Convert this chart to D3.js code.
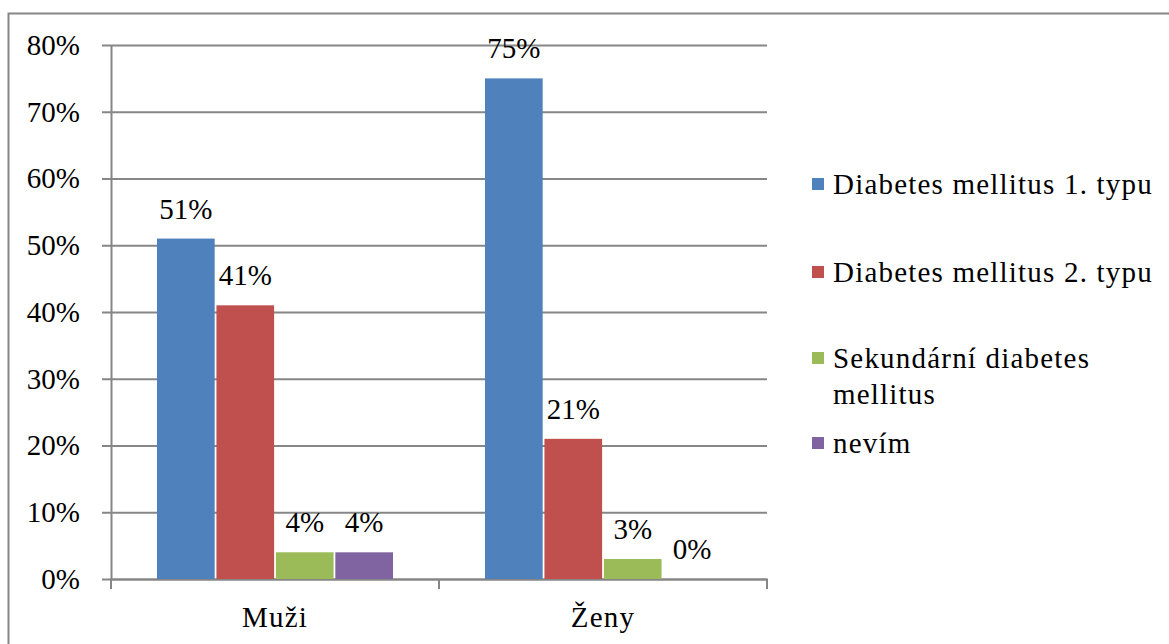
<!DOCTYPE html>
<html>
<head>
<meta charset="utf-8">
<script src="https://cdn.jsdelivr.net/npm/d3@7"></script>
<style>
  body { margin: 0; background: #fff; }
</style>
</head>
<body>
<script>
// data
var categories = ["Muži", "Ženy"];
var seriesNames = ["Diabetes mellitus 1. typu", "Diabetes mellitus 2. typu", "Sekundární diabetes mellitus", "nevím"];
var seriesColors = ["#4F81BD", "#C0504D", "#9BBB59", "#8064A2"];
var valuesMuzi = [51, 41, 4, 4];
var valuesZeny = [75, 21, 3, 0];
var yTicks = [0, 10, 20, 30, 40, 50, 60, 70, 80];

var FONT = "'Liberation Serif', 'Times New Roman', serif";
var W = 1169, H = 644;
var svg = d3.select("body").append("svg").attr("width", W).attr("height", H)
  .style("font-family", FONT);

// outer border (runs off right / bottom edge)
svg.append("rect")
  .attr("x", 8.5).attr("y", 13.5)
  .attr("width", W + 20).attr("height", H + 20)
  .attr("fill", "none").attr("stroke", "#868686").attr("stroke-width", 2);

var plotL = 111, plotR = 767, plotT = 45, plotB = 579;

var x0 = d3.scaleBand().domain(categories).range([plotL, plotR]);
var x1 = d3.scaleBand().domain(seriesNames).range([46, x0.bandwidth() - 46]).paddingInner(0.03);
var y = d3.scaleLinear().domain([0, 80]).range([plotB, plotT]);

// gridlines
svg.append("g").selectAll("line").data(yTicks).enter().append("line")
  .attr("x1", plotL - 9).attr("x2", plotR)
  .attr("y1", function(d){ return y(d) + 0.5; })
  .attr("y2", function(d){ return y(d) + 0.5; })
  .attr("stroke", "#868686").attr("stroke-width", 2);

// y axis
var yAxis = svg.append("g")
  .attr("transform", "translate(" + plotL + ",0)")
  .call(d3.axisLeft(y).tickValues(yTicks).tickSize(0).tickPadding(31)
    .tickFormat(function(d){ return d + "%"; }));
yAxis.attr("font-family", null).attr("font-size", null);
yAxis.select(".domain").attr("stroke", "#868686").attr("stroke-width", 2);
yAxis.selectAll("text").attr("font-size", 29).style("font-family", FONT).attr("fill", "#000").attr("dy", "0.32em");

// x axis
var xAxis = svg.append("g")
  .attr("transform", "translate(0," + plotB + ")")
  .call(d3.axisBottom(x0).tickSize(0).tickPadding(27));
xAxis.attr("font-family", null).attr("font-size", null);
xAxis.select(".domain").remove();
xAxis.selectAll("text").attr("font-size", 29).style("font-family", FONT)
  .style("letter-spacing", "1.2px").attr("fill", "#000");
var bounds = [plotL, plotL + x0.bandwidth(), plotR];
svg.append("g").selectAll("line").data(bounds).enter().append("line")
  .attr("x1", function(d){ return d; }).attr("x2", function(d){ return d; })
  .attr("y1", plotB).attr("y2", plotB + 10)
  .attr("stroke", "#868686").attr("stroke-width", 2);
svg.append("line").attr("x1", plotL - 1).attr("x2", plotR + 1)
  .attr("y1", plotB + 0.5).attr("y2", plotB + 0.5)
  .attr("stroke", "#868686").attr("stroke-width", 2);

// bars
var rows = [valuesMuzi, valuesZeny];
var groups = svg.append("g").selectAll("g").data(rows).enter().append("g")
  .attr("transform", function(d, i){ return "translate(" + x0(categories[i]) + ",0)"; });

groups.selectAll("rect").data(function(d){ return d; }).enter().append("rect")
  .attr("x", function(d, j){ return x1(seriesNames[j]); })
  .attr("width", x1.bandwidth())
  .attr("y", function(d){ return y(d); })
  .attr("height", function(d){ return plotB - y(d); })
  .attr("fill", function(d, j){ return seriesColors[j]; });

groups.selectAll("text").data(function(d){ return d; }).enter().append("text")
  .attr("x", function(d, j){ return x1(seriesNames[j]) + x1.bandwidth() / 2; })
  .attr("y", function(d){ return y(d) - 20; })
  .attr("text-anchor", "middle")
  .attr("font-size", 29)
  .text(function(d){ return d + "%"; });

// legend
var legendLines = [["Diabetes mellitus 1. typu"], ["Diabetes mellitus 2. typu"], ["Sekundární diabetes", "mellitus"], ["nevím"]];
var legendBase = [194, 282, 368, 453];
var leg = svg.append("g").selectAll("g").data(legendLines).enter().append("g");
leg.append("rect")
  .attr("x", 812).attr("y", function(d, i){ return legendBase[i] - 16; })
  .attr("width", 12).attr("height", 12)
  .attr("fill", function(d, i){ return seriesColors[i]; });
leg.append("text")
  .attr("x", 833).attr("y", function(d, i){ return legendBase[i]; })
  .attr("font-size", 29)
  .style("letter-spacing", "1.2px")
  .selectAll("tspan").data(function(d){ return d; }).enter().append("tspan")
  .attr("x", 833).attr("dy", function(d, k){ return k === 0 ? 0 : 36; })
  .text(function(d){ return d; });
</script>
</body>
</html>
